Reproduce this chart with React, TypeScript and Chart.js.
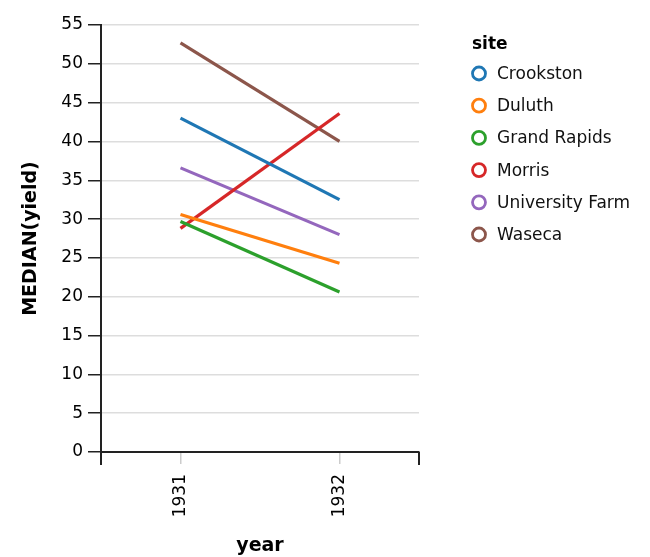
import React, { useEffect, useRef } from "react";
import { Chart, registerables } from "chart.js";

Chart.register(...registerables);

const years = ["1931", "1932"];
const sites = ["Crookston", "Duluth", "Grand Rapids", "Morris", "University Farm", "Waseca"];
const crookston = [43.0, 32.5];
const duluth = [30.6, 24.3];
const grandRapids = [29.7, 20.6];
const morris = [28.8, 43.6];
const universityFarm = [36.6, 28.0];
const waseca = [52.7, 40.0];
const siteColors = ["#1f77b4", "#ff7f0e", "#2ca02c", "#d62728", "#9467bd", "#8c564b"];
const yMin = 0;
const yMax = 55;
const yStep = 5;

const FONT = "'DejaVu Sans', sans-serif";

const legendPlugin = {
  id: "siteLegend",
  afterDraw(chart: any) {
    const ctx = chart.ctx;
    ctx.save();
    ctx.textBaseline = "middle";
    ctx.textAlign = "left";
    ctx.fillStyle = "#000";
    ctx.font = `bold 17px ${FONT}`;
    ctx.fillText("site", 472, 45);
    ctx.font = `17px ${FONT}`;
    chart.data.datasets.forEach((ds: any, i: number) => {
      const y = 73.5 + i * 32.2;
      ctx.beginPath();
      ctx.arc(479, y, 6.5, 0, Math.PI * 2);
      ctx.strokeStyle = ds.borderColor;
      ctx.lineWidth = 2.8;
      ctx.stroke();
      ctx.fillStyle = "#111";
      ctx.fillText(ds.label, 497, y + 1);
    });
    ctx.restore();
  },
};

const edgeTicksPlugin = {
  id: "edgeTicks",
  afterDraw(chart: any) {
    const { ctx, chartArea } = chart;
    ctx.save();
    ctx.strokeStyle = "#222";
    ctx.lineWidth = 2;
    [chartArea.left, chartArea.right].forEach((x: number) => {
      ctx.beginPath();
      ctx.moveTo(x, chartArea.bottom);
      ctx.lineTo(x, chartArea.bottom + 13);
      ctx.stroke();
    });
    ctx.restore();
  },
};

export default function App() {
  const ref = useRef<HTMLCanvasElement | null>(null);
  useEffect(() => {
    if (!ref.current) return;
    const series = [crookston, duluth, grandRapids, morris, universityFarm, waseca];
    const chart = new Chart(ref.current, {
      type: "line",
      data: {
        labels: years,
        datasets: sites.map((s, i) => ({
          label: s,
          data: series[i],
          borderColor: siteColors[i],
          backgroundColor: siteColors[i],
          borderWidth: 3.2,
          pointRadius: 0,
          tension: 0,
        })),
      },
      options: {
        animation: false,
        responsive: false,
        layout: { padding: { top: 25, right: 231, left: 0, bottom: 0 } },
        plugins: { legend: { display: false }, tooltip: { enabled: false } },
        scales: {
          x: {
            type: "category",
            offset: true,
            afterFit(scale: any) {
              scale.height = 105;
            },
            grid: {
              display: true,
              drawOnChartArea: false,
              drawTicks: true,
              tickLength: 12,
              offset: false,
              color: "#ccc",
              tickColor: "#ccc",
              lineWidth: 1.5,
            },
            border: { display: true, color: "#222", width: 2 },
            ticks: {
              minRotation: 90,
              maxRotation: 90,
              padding: 10,
              color: "#000",
              font: { family: FONT, size: 17 },
            },
            title: {
              display: true,
              text: "year",
              color: "#000",
              font: { family: FONT, size: 19, weight: "bold" },
              padding: { top: 0, bottom: 0 },
            },
          },
          y: {
            min: yMin,
            max: yMax,
            afterFit(scale: any) {
              scale.width = 101;
            },
            ticks: {
              stepSize: yStep,
              padding: 5,
              color: "#000",
              font: { family: FONT, size: 17 },
            },
            grid: {
              color: "#ddd",
              tickColor: "#222",
              tickLength: 13,
              lineWidth: 1.5,
            },
            border: { display: true, color: "#222", width: 2 },
            title: {
              display: true,
              text: "MEDIAN(yield)",
              color: "#000",
              font: { family: FONT, size: 19, weight: "bold" },
              padding: { top: 20, bottom: 0 },
            },
          },
        },
      },
      plugins: [legendPlugin, edgeTicksPlugin],
    } as any);
    return () => chart.destroy();
  }, []);
  return (
    <div style={{ position: "absolute", left: 0, top: 0, width: 650, height: 557 }}>
      <canvas ref={ref} width={650} height={557} style={{ display: "block" }} />
    </div>
  );
}
